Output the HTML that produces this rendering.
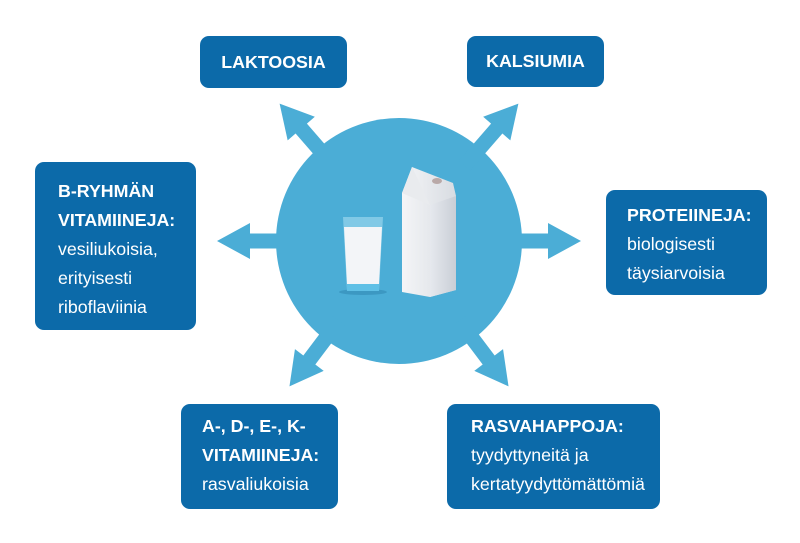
<!DOCTYPE html>
<html><head><meta charset="utf-8"><style>
html,body{margin:0;padding:0;background:#fff;}
body{width:800px;height:543px;position:relative;overflow:hidden;font-family:"Liberation Sans",Arial,sans-serif;}
.b{position:absolute;background:#0c6aa9;border-radius:9px;color:#fff;font-size:17.8px;line-height:29px;box-sizing:border-box;white-space:nowrap;}
.b b{font-weight:bold;}
svg{position:absolute;left:0;top:0;}
</style></head><body>
<svg width="800" height="543" viewBox="0 0 800 543">
<defs>
<polygon id="ar" points="100,-7.5 149,-7.5 149,-18 182,0 149,18 149,7.5 100,7.5" fill="#4badd6"/>
<linearGradient id="cg" x1="0" x2="1"><stop offset="0" stop-color="#f4f5f7"/><stop offset="1" stop-color="#d8dce2"/></linearGradient>
<linearGradient id="sg" x1="0" x2="1"><stop offset="0" stop-color="#e6e9ee"/><stop offset="1" stop-color="#c9ced6"/></linearGradient>
</defs>
<circle cx="399" cy="241" r="123" fill="#4badd6"/>
<g transform="translate(399,241)">
<use href="#ar" transform="rotate(0)"/>
<use href="#ar" transform="rotate(180)"/>
<use href="#ar" transform="rotate(-131)"/>
<use href="#ar" transform="rotate(-49)"/>
<use href="#ar" transform="rotate(127)"/>
<use href="#ar" transform="rotate(53)"/>
</g>
<ellipse cx="363" cy="292" rx="24" ry="3" fill="#3c98c2"/>
<path d="M343,217 L383,217 L379,291 L347,291 Z" fill="#8fd0ea" opacity="0.8"/>
<path d="M344,227 L382,227 L379,284 L347,284 Z" fill="#f3f5f8"/>
<path d="M347,284 L379,284 L379,291 L347,291 Z" fill="#5fc0e6"/>
<path d="M412,167 L453,183 L456,196 L456,290 L430,297 L402,292 L402,193 Z" fill="url(#cg)"/>
<path d="M430,205 L456,196 L456,290 L430,297 Z" fill="url(#sg)"/>
<path d="M402,193 L412,167 L430,205 Z" fill="#e9ebee"/>
<ellipse cx="437" cy="181" rx="5" ry="3" fill="#b9a9a8"/>
</svg>
<div class="b" style="left:200px;top:36px;width:147px;height:52px;text-align:center;line-height:52px;"><b>LAKTOOSIA</b></div>
<div class="b" style="left:467px;top:36px;width:137px;height:51px;text-align:center;line-height:51px;"><b>KALSIUMIA</b></div>
<div class="b" style="left:35px;top:162px;width:161px;height:168px;padding:15px 0 0 23px;"><b>B-RYHMÄN<br>VITAMIINEJA:</b><br>vesiliukoisia,<br>erityisesti<br>riboflaviinia</div>
<div class="b" style="left:606px;top:190px;width:161px;height:105px;padding:11px 0 0 21px;"><b>PROTEIINEJA:</b><br>biologisesti<br>täysiarvoisia</div>
<div class="b" style="left:181px;top:404px;width:157px;height:105px;padding:8px 0 0 21px;"><b>A-, D-, E-, K-<br>VITAMIINEJA:</b><br>rasvaliukoisia</div>
<div class="b" style="left:447px;top:404px;width:213px;height:105px;padding:8px 0 0 24px;"><b>RASVAHAPPOJA:</b><br>tyydyttyneitä ja<br>kertatyydyttömättömiä</div>
</body></html>
